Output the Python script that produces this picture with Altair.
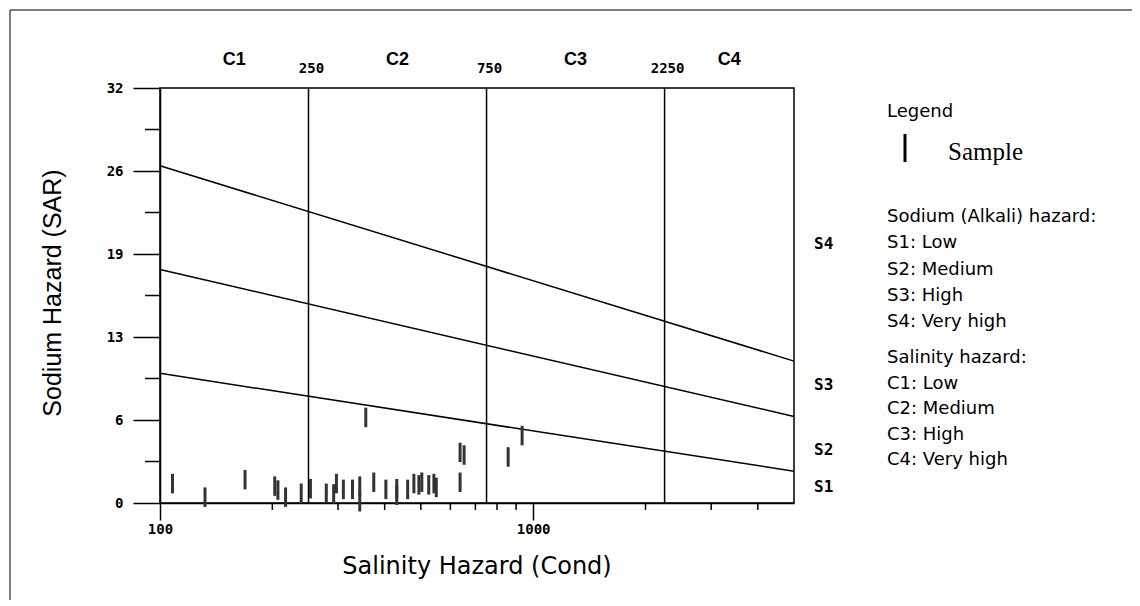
import math
import altair as alt
import pandas as pd

# ---------------- data ----------------
# Samples: electrical conductivity (uS/cm) and SAR
sample_ec = [108, 132, 169, 203, 207, 217, 239, 253, 279, 292, 297, 310, 328, 343,
             343, 356, 374, 403, 431, 431, 461, 479, 494, 503, 525, 542, 550, 637,
             637, 653, 857, 934]
sample_sar = [1.5, 0.45, 1.8, 1.3, 1.0, 0.45, 0.75, 1.1, 0.75, 0.7, 1.5, 1.05, 1.05, 1.3,
              0.1, 6.6, 1.6, 1.05, 1.1, 0.6, 1.05, 1.5, 1.4, 1.6, 1.4, 1.5, 1.2, 1.6,
              3.9, 3.7, 3.55, 5.2]

# Sodium-hazard boundary lines (straight on log-EC axis): SAR at both ends
boundary_names = ["S1/S2", "S2/S3", "S3/S4"]
boundary_ec_ends = [100, 5000]
boundary_sar_left = [10.0, 18.0, 26.0]
boundary_sar_right = [2.45, 6.67, 10.94]

# Salinity classes
ec_domain = [100, 5000]
class_limits = [250, 750, 2250]
class_names = ["C1", "C2", "C3", "C4"]

# Axis ticks
sar_domain = [0, 32]
sar_major = [0, 6.4, 12.8, 19.2, 25.6, 32]
sar_minor = [3.2, 9.6, 16, 22.4, 28.8]
ec_major = [100, 1000]
ec_minor = [200, 300, 400, 500, 600, 700, 800, 900, 2000, 3000, 4000]

# Sodium-hazard class labels on the right
s_names = ["S1", "S2", "S3", "S4"]
s_label_sar = [1.2, 4.1, 9.1, 20.0]

legend_title = "Legend"
legend_sample = "Sample"
legend_sodium = ["Sodium (Alkali) hazard:", "S1: Low", "S2: Medium", "S3: High", "S4: Very high"]
legend_salinity = ["Salinity hazard:", "C1: Low", "C2: Medium", "C3: High", "C4: Very high"]

x_title = "Salinity Hazard (Cond)"
y_title = "Sodium Hazard (SAR)"

# ---------------- layout ----------------
W, H = 634, 415
PAD = {"left": 152, "top": 80, "right": 338, "bottom": 97}
MONO = "DejaVu Sans Mono"
SANS = "DejaVu Sans"

xscale = alt.Scale(type="log", domain=ec_domain, nice=False)
yscale = alt.Scale(domain=sar_domain, nice=False, zero=False)

xaxis = alt.Axis(values=ec_major, labelExpr="format(datum.value, 'd')", title=None,
                 grid=False, tickSize=17, tickWidth=1.5, tickColor="black",
                 domainColor="black", domainWidth=1.5, labelFont=MONO,
                 labelFontWeight="bold", labelFontSize=14, labelColor="black",
                 labelPadding=2, labelFlush=False)
yaxis = alt.Axis(values=sar_major, labelExpr="format(datum.value, '.0f')", title=None,
                 grid=False, tickSize=27, tickWidth=1.5, tickColor="black",
                 domainColor="black", domainWidth=1.5, labelFont=MONO,
                 labelFontWeight="bold", labelFontSize=14, labelColor="black",
                 labelPadding=10, labelFlush=False)


def X(field):
    return alt.X(field, type="quantitative", scale=xscale, axis=xaxis)


def Y(field):
    return alt.Y(field, type="quantitative", scale=yscale, axis=yaxis)


samples = pd.DataFrame({"ec": sample_ec, "sar": sample_sar})

rows = []
for n, a, b in zip(boundary_names, boundary_sar_left, boundary_sar_right):
    rows.append({"name": n, "ec": boundary_ec_ends[0], "sar": a})
    rows.append({"name": n, "ec": boundary_ec_ends[1], "sar": b})
bounds = pd.DataFrame(rows)

limits = pd.DataFrame({"ec": class_limits, "label": [str(v) for v in class_limits]})
edges = [ec_domain[0]] + class_limits + [ec_domain[1]]
cmid = pd.DataFrame({"ec": [math.sqrt(edges[i] * edges[i + 1]) for i in range(4)],
                     "label": class_names})
slab = pd.DataFrame({"sar": s_label_sar, "label": s_names})
xminor = pd.DataFrame({"ec": ec_minor})
yminor = pd.DataFrame({"sar": sar_minor})
one = pd.DataFrame({"k": [0]})

layers = []

# vertical class-limit lines
layers.append(alt.Chart(limits).mark_rule(color="black", strokeWidth=1.5).encode(
    x=X("ec"), y=alt.value(0), y2=alt.value(H)))

# sodium boundary lines
layers.append(alt.Chart(bounds).mark_line(color="black", strokeWidth=1.5).encode(
    x=X("ec"), y=Y("sar"), detail="name:N"))

# samples
layers.append(alt.Chart(samples).mark_point(
    shape="M0,-1L0,1", size=380, strokeWidth=3, color="#333333", filled=False,
    opacity=1).encode(x=X("ec"), y=Y("sar")))

# minor ticks
layers.append(alt.Chart(xminor).mark_rule(color="black", strokeWidth=1.5).encode(
    x=X("ec"), y=alt.value(H), y2=alt.value(H + 7)))
layers.append(alt.Chart(yminor).mark_rule(color="black", strokeWidth=1.5).encode(
    y=Y("sar"), x=alt.value(-15), x2=alt.value(0)))

# top labels
layers.append(alt.Chart(cmid).mark_text(font="Liberation Sans", fontWeight="bold",
                                        fontSize=18, color="black", baseline="middle").encode(
    x=X("ec"), y=alt.value(-28), text="label:N"))
layers.append(alt.Chart(limits).mark_text(font=MONO, fontWeight="bold", fontSize=14,
                                          color="black", baseline="middle", dx=3).encode(
    x=X("ec"), y=alt.value(-19), text="label:N"))

# S labels on the right
layers.append(alt.Chart(slab).mark_text(font=MONO, fontWeight="bold", fontSize=16,
                                        color="black", align="left", baseline="middle").encode(
    y=Y("sar"), x=alt.value(654), text="label:N"))

# axis titles
layers.append(alt.Chart(one).mark_text(text=x_title, font=SANS, fontSize=24,
                                       color="black", baseline="middle").encode(
    x=alt.value(W / 2), y=alt.value(479)))
layers.append(alt.Chart(one).mark_text(text=y_title, font="Liberation Sans", fontSize=25,
                                       angle=270, color="black", baseline="middle").encode(
    x=alt.value(-107), y=alt.value(205)))

# legend
LX = 887 - 160
FS = 18
layers.append(alt.Chart(one).mark_text(text=legend_title, font=SANS, fontSize=FS,
                                       color="black", align="left", baseline="middle").encode(
    x=alt.value(LX), y=alt.value(112 - 88)))
layers.append(alt.Chart(one).mark_point(shape="M0,-1L0,1", size=780, strokeWidth=3,
                                        color="black", filled=False, opacity=1).encode(
    x=alt.value(905 - 160), y=alt.value(148 - 88)))
layers.append(alt.Chart(one).mark_text(text=legend_sample, font="Liberation Serif",
                                       fontSize=25, color="black", align="left",
                                       baseline="middle").encode(
    x=alt.value(948 - 160), y=alt.value(152 - 88)))
for i, t in enumerate(legend_sodium):
    layers.append(alt.Chart(one).mark_text(text=t, font=SANS, fontSize=FS, color="black",
                                           align="left", baseline="middle").encode(
        x=alt.value(LX), y=alt.value(217 - 88 + i * 26.3)))
for i, t in enumerate(legend_salinity):
    layers.append(alt.Chart(one).mark_text(text=t, font=SANS, fontSize=FS, color="black",
                                           align="left", baseline="middle").encode(
        x=alt.value(LX), y=alt.value(358 - 88 + i * 25.5)))

# outer figure frame (top and left edges)
layers.append(alt.Chart(one).mark_rule(color="black", strokeWidth=1).encode(
    x=alt.value(-150), x2=alt.value(972), y=alt.value(-78)))
layers.append(alt.Chart(one).mark_rule(color="black", strokeWidth=1).encode(
    x=alt.value(-150), y=alt.value(-78), y2=alt.value(520)))

chart = alt.layer(*layers).properties(
    width=W, height=H, padding=PAD,
    autosize=alt.AutoSizeParams(type="none"), background="white"
).configure_view(stroke="black", strokeWidth=1.5)

chart.save("out.html", embed_options={"renderer": "svg", "actions": False})
